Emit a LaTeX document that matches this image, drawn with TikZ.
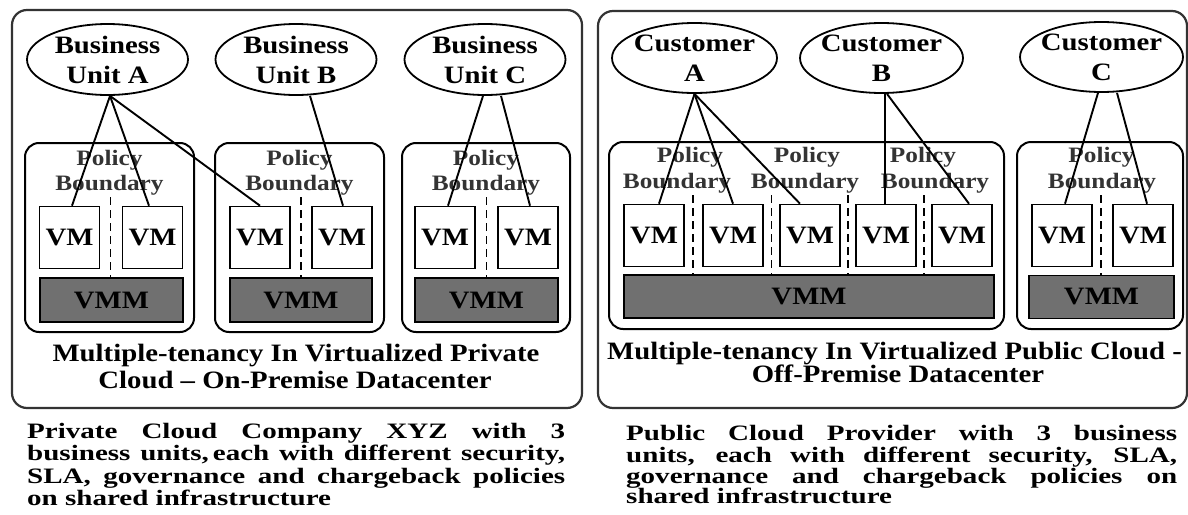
\documentclass[tikz,border=0pt]{standalone}
\usepackage{fontspec}
\setmainfont[FakeStretch=1.15]{Liberation Serif}
\newfontfamily\capfont[FakeStretch=1.32]{Liberation Serif}
\usetikzlibrary{shapes.geometric,calc}
\begin{document}
\begin{tikzpicture}[x=1pt,y=-1pt,
  outerbox/.style={draw=black!80,line width=2.2pt,rounded corners=15pt,inner sep=0pt},
  polbox/.style={draw=black,line width=2pt,rounded corners=14pt,inner sep=0pt,minimum height=189pt},
  bu/.style={ellipse,draw,line width=1.8pt,minimum width=161pt,minimum height=71pt,inner sep=0pt},
  vm/.style={draw,line width=1.6pt,fill=white,minimum width=60pt,minimum height=62pt,inner sep=0pt,font=\fontsize{25}{28}\selectfont\bfseries},
  vmm/.style={draw,line width=1.8pt,fill=black!56,minimum height=44pt,inner sep=0pt,font=\fontsize{25}{28}\selectfont\bfseries},
  conn/.style={line width=1.9pt},
  vsep/.style={line width=1.5pt,dash pattern=on 8pt off 5pt},
  lbl/.style={align=center,font=\fontsize{25}{30}\selectfont\bfseries,inner sep=0pt},
  pol/.style={font=\fontsize{22}{26}\selectfont\bfseries,text=black!80,inner sep=0pt,anchor=base},
  bigtxt/.style={font=\fontsize{25}{30}\selectfont\bfseries,inner sep=0pt,anchor=base},
  captxt/.style={font=\capfont\fontsize{22}{22}\selectfont\bfseries,inner sep=0pt,anchor=base west}]
\useasboundingbox (0,0) rectangle (1188,514);

% outer boxes
\node[outerbox,minimum width=570pt,minimum height=398pt] (L) at (297,209) {};
\node[outerbox,minimum width=589pt,minimum height=397pt] (R) at (892.5,209.5) {};

% policy boxes
\node[polbox,minimum width=169pt] (p1) at (109.5,237.5) {};
\node[polbox,minimum width=169pt] (p2) at (299.5,237.5) {};
\node[polbox,minimum width=168pt] (p3) at (486,237.5) {};
\node[polbox,minimum width=395pt,minimum height=187pt] (p4) at (806.5,235.5) {};
\node[polbox,minimum width=166pt,minimum height=187pt] (p5) at (1100,235.5) {};

% policy labels
\node[pol] (t1a) at (109.5,165) {Policy};
\node[pol] (t1b) at (109.5,190) {Boundary};
\node[pol] (t2a) at (299.5,165) {Policy};
\node[pol] (t2b) at (299.5,190) {Boundary};
\node[pol] (t3a) at (486,165) {Policy};
\node[pol] (t3b) at (486,190) {Boundary};
\node[pol] (t4a) at (690,162) {Policy};
\node[pol] (t4b) at (677,188) {Boundary};
\node[pol] (t5a) at (807,162) {Policy};
\node[pol] (t5b) at (805,188) {Boundary};
\node[pol] (t6a) at (923,162) {Policy};
\node[pol] (t6b) at (935,188) {Boundary};
\node[pol] (t7a) at (1101.5,162) {Policy};
\node[pol] (t7b) at (1102,188) {Boundary};

% ellipses
\node[bu] (A) at (107.5,59.5) {};
\node[bu] (B) at (296,59.5) {};
\node[bu] (C) at (485,59.5) {};
\node[bu,minimum width=165pt,minimum height=70pt] (CA) at (694.5,58) {};
\node[bu,minimum width=163pt,minimum height=70pt] (CB) at (881.5,58) {};
\node[bu,minimum width=163pt,minimum height=70pt] (CC) at (1101.5,57) {};
\node[lbl] (lA) at (A) {Business\\Unit A};
\node[lbl] (lB) at (B) {Business\\Unit B};
\node[lbl] (lC) at (C) {Business\\Unit C};
\node[lbl] (lCA) at (CA) {Customer\\A};
\node[lbl] (lCB) at (CB) {Customer\\B};
\node[lbl] (lCC) at (CC) {Customer\\C};

% VMs left
\node[vm] (v11) at (69.5,237.5) {VM};
\node[vm] (v12) at (152.5,237.5) {VM};
\node[vm] (v21) at (260,237.5) {VM};
\node[vm] (v22) at (342,237.5) {VM};
\node[vm] (v31) at (445,237.5) {VM};
\node[vm] (v32) at (528,237.5) {VM};
\node[vmm,minimum width=143pt] (m1) at (111.5,300) {VMM};
\node[vmm,minimum width=142pt] (m2) at (301,300) {VMM};
\node[vmm,minimum width=143pt] (m3) at (486.5,300) {VMM};

% VMs right
\node[vm] (r1) at (654,235.5) {VM};
\node[vm] (r2) at (733,235.5) {VM};
\node[vm] (r3) at (810,235.5) {VM};
\node[vm] (r4) at (886,235.5) {VM};
\node[vm] (r5) at (962,235.5) {VM};
\node[vm] (s1) at (1062,235.5) {VM};
\node[vm] (s2) at (1143,235.5) {VM};
\node[vmm,minimum width=370pt,minimum height=43pt] (rm) at (809,296.5) {VMM};
\node[vmm,minimum width=145pt,minimum height=43pt] (sm) at (1101.5,297) {VMM};

% separators
\draw[vsep] (110.5,197) -- (110.5,278);
\draw[vsep] (301,197) -- (301,278);
\draw[vsep] (486.5,197) -- (486.5,278);
\draw[vsep] (693,195) -- (693,275);
\draw[vsep] (771.5,195) -- (771.5,275);
\draw[vsep] (848,195) -- (848,275);
\draw[vsep] (924,195) -- (924,275);
\draw[vsep] (1101,195) -- (1101,275.5);

% connectors left
\draw[conn] ([xshift=2.5pt]A.south) -- ([xshift=2.5pt]v11.north);
\draw[conn] ([xshift=2.5pt]A.south) -- ([xshift=-3.5pt]v12.north);
\draw[conn] ([xshift=2.5pt]A.south) -- (v21.north);
\draw[conn] ([xshift=14pt]B.south) -- ([xshift=1pt]v22.north);
\draw[conn] ([xshift=-2pt]C.south) -- ([xshift=3pt]v31.north);
\draw[conn] ([xshift=16pt]C.south) -- ([xshift=2pt]v32.north);

% connectors right
\draw[conn] (CA.south) -- ([xshift=5pt]r1.north);
\draw[conn] (CA.south) -- (r2.north);
\draw[conn] (CA.south) -- ([xshift=-10pt]r3.north);
\draw[conn] ([xshift=3.5pt]CB.south) -- ([xshift=-1pt]r4.north);
\draw[conn] ([xshift=5.5pt]CB.south) -- ([xshift=7pt]r5.north);
\draw[conn] ([xshift=-3.5pt]CC.south) -- ([xshift=3pt]s1.north);
\draw[conn] ([xshift=15.5pt]CC.south) -- ([xshift=4pt]s2.north);

% titles
\node[bigtxt] (h1) at (296,361) {Multiple-tenancy In Virtualized Private};
\node[bigtxt] (h2) at (295,388) {Cloud -- On-Premise Datacenter};
\node[bigtxt] (h3) at (894.5,359) {Multiple-tenancy In Virtualized Public Cloud -};
\node[bigtxt] (h4) at (898,382) {Off-Premise Datacenter};

% captions
\node[captxt] (c1) at (27,438) {\makebox[538pt][s]{Private Cloud Company XYZ with 3}};
\node[captxt] (c2) at (27,460) {\makebox[538pt][s]{business units,\hspace{4pt}each with different security,}};
\node[captxt] (c3) at (27,483) {\makebox[538pt][s]{SLA, governance and chargeback policies}};
\node[captxt] (c4) at (27,505) {on shared infrastructure};
\node[captxt] (d1) at (626,440) {\makebox[551pt][s]{Public Cloud Provider with 3 business}};
\node[captxt] (d2) at (626,462) {\makebox[551pt][s]{units, each with different security, SLA,}};
\node[captxt] (d3) at (626,483) {\makebox[551pt][s]{governance and chargeback policies on}};
\node[captxt] (d4) at (626,503) {shared infrastructure};
\end{tikzpicture}
\end{document}
